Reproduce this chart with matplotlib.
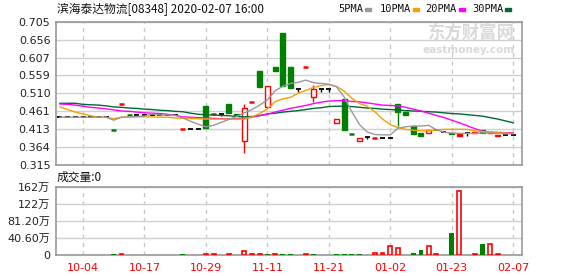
import matplotlib
matplotlib.use("Agg")
import matplotlib.pyplot as plt
from matplotlib.patches import Rectangle

W, H = 578, 276

title = "滨海泰达物流[08348] 2020-02-07 16:00"
vol_title = "成交量:0"
ma_names = ["5PMA", "10PMA", "20PMA", "30PMA"]

# x axis: one slot per trading day shown, labels every 8 slots
tick_slots = [3, 11, 19, 27, 35, 43, 51, 59]
tick_dates = ["10-04", "10-17", "10-29", "11-11", "11-21", "01-02", "01-23", "02-07"]

price_ticks = [0.315, 0.36375, 0.4125, 0.46125, 0.51, 0.55875, 0.6075, 0.65625, 0.705]
price_labels = ["0.315", "0.364", "0.413", "0.461", "0.510", "0.559", "0.607", "0.656", "0.705"]
vol_ticks = [0, 40.6, 81.2, 121.8, 162.4]
vol_labels = ["0", "40.60万", "81.20万", "122万", "162万"]

opens = [0.445, 0.445, 0.445, 0.445, 0.445, 0.445, 0.445, 0.409, 0.480, 0.450,
         0.450, 0.450, 0.450, 0.450, 0.450, 0.450, 0.414, 0.414, 0.414, 0.476,
         0.455, 0.455, 0.481, 0.455, 0.381, 0.486, 0.571, 0.472, 0.582, 0.675,
         0.582, 0.522, 0.581, 0.501, 0.522, 0.522, 0.430, 0.495, 0.400, 0.381,
         0.391, 0.388, 0.388, 0.388, 0.481, 0.459, 0.421, 0.403, 0.401, 0.409,
         0.406, 0.403, 0.400, 0.401, 0.406, 0.409, 0.401, 0.398, 0.398, 0.398]
highs = [0.445, 0.445, 0.445, 0.445, 0.445, 0.445, 0.445, 0.409, 0.480, 0.450,
         0.450, 0.450, 0.450, 0.450, 0.450, 0.450, 0.414, 0.414, 0.414, 0.476,
         0.455, 0.455, 0.481, 0.455, 0.481, 0.486, 0.571, 0.529, 0.582, 0.675,
         0.582, 0.522, 0.581, 0.533, 0.522, 0.522, 0.439, 0.495, 0.400, 0.388,
         0.391, 0.388, 0.388, 0.388, 0.481, 0.459, 0.421, 0.403, 0.409, 0.409,
         0.406, 0.403, 0.400, 0.401, 0.406, 0.409, 0.404, 0.398, 0.398, 0.398]
lows = [0.445, 0.445, 0.445, 0.445, 0.445, 0.445, 0.445, 0.409, 0.480, 0.450,
        0.450, 0.450, 0.450, 0.450, 0.450, 0.450, 0.414, 0.414, 0.414, 0.417,
        0.455, 0.447, 0.456, 0.449, 0.348, 0.486, 0.528, 0.472, 0.572, 0.531,
        0.524, 0.514, 0.581, 0.486, 0.514, 0.514, 0.430, 0.411, 0.400, 0.381,
        0.385, 0.388, 0.388, 0.388, 0.422, 0.451, 0.400, 0.395, 0.401, 0.409,
        0.406, 0.400, 0.395, 0.395, 0.401, 0.401, 0.401, 0.395, 0.398, 0.398]
closes = [0.445, 0.445, 0.445, 0.445, 0.445, 0.445, 0.445, 0.409, 0.480, 0.450,
          0.450, 0.450, 0.450, 0.450, 0.450, 0.450, 0.414, 0.414, 0.414, 0.417,
          0.455, 0.455, 0.456, 0.451, 0.469, 0.486, 0.528, 0.529, 0.572, 0.531,
          0.524, 0.522, 0.581, 0.522, 0.522, 0.522, 0.439, 0.411, 0.400, 0.388,
          0.391, 0.388, 0.388, 0.388, 0.460, 0.451, 0.400, 0.395, 0.409, 0.409,
          0.406, 0.400, 0.395, 0.401, 0.401, 0.401, 0.404, 0.395, 0.398, 0.398]
# r = hollow red, rf = filled red, g = green, k = unchanged
styles = ["k", "k", "k", "k", "k", "k", "k", "g", "rf", "g",
          "k", "k", "k", "k", "k", "k", "rf", "k", "k", "g",
          "rf", "k", "g", "g", "r", "rf", "g", "r", "g", "g",
          "g", "k", "rf", "r", "k", "k", "r", "g", "g", "r",
          "k", "rf", "k", "k", "g", "g", "g", "g", "r", "k",
          "k", "g", "rf", "k", "rf", "g", "r", "rf", "k", "k"]

ma5 = [0.445, 0.445, 0.445, 0.445, 0.445, 0.445, 0.445, 0.437, 0.445, 0.446,
       0.447, 0.448, 0.454, 0.451, 0.451, 0.450, 0.443, 0.434, 0.426, 0.419,
       0.423, 0.431, 0.439, 0.447, 0.457, 0.466, 0.478, 0.492, 0.517, 0.529,
       0.537, 0.540, 0.546, 0.539, 0.537, 0.535, 0.528, 0.500, 0.460, 0.425,
       0.405, 0.398, 0.397, 0.397, 0.415, 0.419, 0.421, 0.421, 0.423, 0.411,
       0.404, 0.402, 0.401, 0.401, 0.401, 0.402, 0.402, 0.401, 0.400, 0.400]
ma10 = [0.473, 0.466, 0.459, 0.454, 0.449, 0.445, 0.445, 0.441, 0.445, 0.446,
        0.446, 0.446, 0.446, 0.445, 0.445, 0.443, 0.442, 0.442, 0.441, 0.440,
        0.440, 0.440, 0.440, 0.440, 0.440, 0.446, 0.455, 0.468, 0.487, 0.495,
        0.499, 0.510, 0.518, 0.526, 0.531, 0.534, 0.529, 0.516, 0.497, 0.482,
        0.475, 0.460, 0.440, 0.425, 0.417, 0.412, 0.410, 0.408, 0.408, 0.410,
        0.412, 0.412, 0.412, 0.412, 0.408, 0.406, 0.404, 0.403, 0.402, 0.401]
ma20 = [0.481, 0.480, 0.478, 0.475, 0.472, 0.470, 0.468, 0.465, 0.462, 0.461,
        0.459, 0.457, 0.456, 0.455, 0.453, 0.450, 0.446, 0.445, 0.444, 0.443,
        0.442, 0.441, 0.441, 0.441, 0.442, 0.445, 0.450, 0.453, 0.459, 0.464,
        0.469, 0.473, 0.477, 0.482, 0.486, 0.489, 0.490, 0.490, 0.488, 0.487,
        0.484, 0.481, 0.478, 0.477, 0.476, 0.472, 0.467, 0.462, 0.456, 0.450,
        0.444, 0.437, 0.430, 0.422, 0.414, 0.407, 0.404, 0.404, 0.403, 0.403]
ma30 = [0.483, 0.483, 0.483, 0.480, 0.479, 0.478, 0.476, 0.473, 0.472, 0.470,
        0.469, 0.467, 0.466, 0.464, 0.463, 0.461, 0.460, 0.456, 0.453, 0.452,
        0.451, 0.450, 0.449, 0.447, 0.446, 0.447, 0.449, 0.454, 0.456, 0.459,
        0.461, 0.463, 0.466, 0.469, 0.471, 0.474, 0.475, 0.475, 0.474, 0.472,
        0.470, 0.469, 0.467, 0.466, 0.465, 0.463, 0.462, 0.461, 0.460, 0.459,
        0.457, 0.455, 0.454, 0.452, 0.450, 0.448, 0.444, 0.440, 0.435, 0.430]

# volume in 万 shares
volumes = [0, 0, 0, 0, 0, 0, 0, 3, 3, 0,
           0, 0, 0, 0, 0, 0, 3, 0, 0, 3,
           3, 0, 3, 0, 9.5, 2.5, 2.5, 2.5, 2.5, 2.5,
           2.5, 0, 2.5, 2.5, 0, 0, 2.5, 2.5, 2.5, 2.5,
           0, 5.5, 5.5, 21, 16, 0, 5.5, 12.5, 21, 3,
           0, 52.6, 152, 0, 2.5, 26.7, 26, 3, 0, 0]
vol_styles = ["r", "r", "r", "r", "r", "r", "r", "g", "r", "r",
              "r", "r", "r", "r", "r", "r", "g", "r", "r", "r",
              "r", "r", "r", "r", "r", "r", "r", "g", "r", "g",
              "g", "r", "r", "g", "r", "r", "g", "g", "g", "g",
              "r", "r", "r", "r", "r", "r", "g", "g", "r", "r",
              "r", "g", "r", "r", "r", "g", "r", "r", "r", "r"]

RED = "#ff0000"
GREEN = "#008000"
ma_colors = ["#999999", "#f5a100", "#ff00ff", "#006a33"]
style_colors = {"r": RED, "rf": RED, "g": GREEN, "k": "#000000"}

fig = plt.figure(figsize=(W / 100, H / 100), dpi=100)
ax = fig.add_axes([56 / W, 1 - 165 / H, 466 / W, 143.3 / H])
axv = fig.add_axes([56 / W, 1 - 255 / H, 466 / W, 68 / H])

xlim = (-0.52, 60.16)
bw = 0.65

for a in (ax, axv):
    a.set_xlim(*xlim)
    for s in a.spines.values():
        s.set_color("#999999")
        s.set_linewidth(1.2)
    for xs in tick_slots:
        a.axvline(xs, color="#c8c8c8", lw=1, ls=(0, (3, 3)), zorder=0)
    a.tick_params(length=0, labelsize=8, colors="#222222", pad=4)
    a.set_axisbelow(True)

# price panel
ax.set_ylim(0.315, 0.705)
ax.set_yticks(price_ticks)
ax.set_yticklabels(price_labels)
ax.set_xticks([])
ax.yaxis.grid(True, color="#d0d0d0", lw=1)

for i in range(len(opens)):
    o, h, l, c, st = opens[i], highs[i], lows[i], closes[i], styles[i]
    col = style_colors[st]
    lo, hi = min(o, c), max(o, c)
    if h > l:
        ax.vlines(i, l, h, color=col, lw=1, zorder=2)
    if hi - lo < 0.003:
        ax.hlines((lo + hi) / 2, i - bw / 2, i + bw / 2, color=col,
                  lw=1.8 if st != "k" else 1.3, zorder=3)
    else:
        face = "white" if st == "r" else col
        ax.add_patch(Rectangle((i - bw / 2, lo), bw, hi - lo, facecolor=face,
                               edgecolor=col, lw=1, zorder=3))

xs = list(range(len(ma5)))
for vals, col in zip([ma30, ma20, ma10, ma5], ma_colors[::-1]):
    ax.plot(xs, vals, color=col, lw=1, zorder=4)

# watermark
ax.text(0.985, 0.925, "东方财富网", transform=ax.transAxes, ha="right", va="center",
        fontsize=12.5, color="#d9d9d9", family=["Noto Sans CJK SC"], zorder=1,
        fontweight="bold")
ax.text(0.985, 0.8, "eastmoney.com", transform=ax.transAxes, ha="right", va="center",
        fontsize=7.5, color="#d9d9d9", zorder=1, fontweight="bold")

# volume panel
axv.set_ylim(0, 162.4)
axv.set_yticks(vol_ticks)
axv.set_yticklabels(vol_labels, family=["DejaVu Sans", "Noto Sans CJK SC"])
axv.yaxis.grid(True, color="#d0d0d0", lw=1)
axv.set_xticks(tick_slots)
axv.set_xticklabels(tick_dates, color=RED)
axv.tick_params(axis="x", pad=6)

for i, v in enumerate(volumes):
    if v <= 0:
        continue
    if vol_styles[i] == "g":
        axv.bar(i, v, width=0.62, color=GREEN, zorder=3)
    else:
        axv.bar(i, v, width=0.5, facecolor="white", edgecolor=RED, lw=1.2, zorder=3)

# header texts
fig.text(57 / W, 1 - 9 / H, title, ha="left", va="center", fontsize=8.5,
         family=["Noto Sans CJK SC"], color="#111111")
fig.text(57 / W, 1 - 177 / H, vol_title, ha="left", va="center", fontsize=8.5,
         family=["Noto Sans CJK SC"], color="#111111")

legend_pos = [(338, 365), (380, 413), (425, 459), (472, 505)]
for name, col, (tx, mx) in zip(ma_names, ma_colors, legend_pos):
    fig.text(tx / W, 1 - 9 / H, name, ha="left", va="center", fontsize=7.5,
             family=["DejaVu Sans Mono"], color="#111111")
    fig.add_artist(Rectangle((mx / W, 1 - 11 / H), 6 / W, 3 / H,
                             transform=fig.transFigure, color=col))

fig.savefig("out.png", dpi=100)
